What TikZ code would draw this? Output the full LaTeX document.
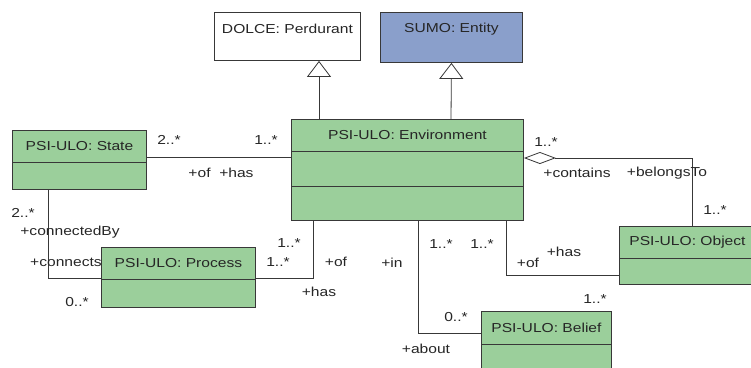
\documentclass[tikz,border=0pt]{standalone}
\usepackage{fontspec}
\setmainfont{Liberation Sans}[FakeStretch=1.2]
\usetikzlibrary{arrows.meta, positioning}
\definecolor{ulogreen}{HTML}{9BCF9B}
\definecolor{sumoblue}{HTML}{8A9FCB}
\definecolor{edgegray}{HTML}{383838}

\tikzset{
  classbox/.style={draw=edgegray, line width=0.9pt, fill=ulogreen, anchor=north west, inner sep=0pt},
  classname/.style={inner sep=0pt, font=\fontsize{13}{15}\selectfont, text=black!85},
  rolelabel/.style={inner sep=0pt, font=\fontsize{13}{15}\selectfont, text=black!85},
  assoc/.style={draw=edgegray, line width=0.8pt},
  gen/.style={assoc, -{Triangle[open, length=16pt, width=24pt, line width=0.8pt]}},
  aggr/.style={assoc, {Diamond[open, length=32pt, width=12pt, line width=0.8pt]}-}
}

\begin{document}
\begin{tikzpicture}[x=1pt, y=-1pt]
        \useasboundingbox (0,0) rectangle (751,367);
        \fill[white] (0,0) rectangle (751,367);

        \node[classbox, fill=white, minimum width=146pt, minimum height=48pt] (dolce) at (214,12) {};
        \node[classname] (dolcename) at ([yshift=-17pt]dolce.north) {DOLCE: Perdurant};
        \node[classbox, fill=sumoblue, minimum width=142pt, minimum height=50pt] (sumo) at (380,12) {};
        \node[classname] (sumoname) at ([yshift=-17pt]sumo.north) {SUMO: Entity};

        \node[classbox, minimum width=232pt, minimum height=101pt] (env) at (291,119) {};
        \node[classname] (envname) at ([yshift=-16pt]env.north) {PSI-ULO: Environment};
        \foreach \dy in {32,67}
            \draw[assoc] ([yshift=-\dy pt]env.north west) -- ([yshift=-\dy pt]env.north east);

        \node[classbox, minimum width=134pt, minimum height=59pt] (state) at (12,130) {};
        \node[classname] (statename) at ([yshift=-16pt]state.north) {PSI-ULO: State};
        \draw[assoc] ([yshift=-32pt]state.north west) -- ([yshift=-32pt]state.north east);

        \node[classbox, minimum width=154pt, minimum height=60pt] (process) at (101,247) {};
        \node[classname] (processname) at ([yshift=-16pt]process.north) {PSI-ULO: Process};
        \draw[assoc] ([yshift=-32pt]process.north west) -- ([yshift=-32pt]process.north east);

        \node[classbox, minimum width=136pt, minimum height=58pt] (object) at (619,226) {};
        \node[classname] (objectname) at ([yshift=-16pt]object.north) {PSI-ULO: Object};
        \draw[assoc] ([yshift=-32pt]object.north west) -- ([yshift=-32pt]object.north east);

        \node[classbox, minimum width=130pt, minimum height=70pt] (belief) at (481,311) {};
        \node[classname] (beliefname) at ([yshift=-17pt]belief.north) {PSI-ULO: Belief};
        \draw[assoc] ([yshift=-33pt]belief.north west) -- ([yshift=-33pt]belief.north east);

        \draw[gen] ([xshift=28pt]env.north west) coordinate (gdolce) -- (gdolce |- dolce.south);
        \draw[gen] ([xshift=160pt]env.north west) -- (sumo.south);

        \draw[assoc] ([yshift=-27pt]state.north east) -- ([yshift=-38pt]env.north west);
        \draw[assoc] ([xshift=36pt]state.south west) |- ([yshift=-31pt]process.north west);
        \draw[assoc] ([yshift=-31pt]process.north east) -| ([xshift=22pt]env.south west);
        \draw[assoc] ([xshift=127pt]env.south west) |- ([yshift=-22pt]belief.north west);
        \draw[assoc] ([xshift=215pt]env.south west) |- ([yshift=-49pt]object.north west);
        \draw[aggr] ([yshift=-39pt]env.north east) -| ([xshift=73pt]object.north west);

        \node[rolelabel] (stmult) at (169,140) {2..*};
        \node[rolelabel] (enstmult) at (266,140) {1..*};
        \node[rolelabel] (stenrole) at (221,173) {+of\ \ +has};
        \node[rolelabel] (stdownmult) at (23,213) {2..*};
        \node[rolelabel] (conbyrole) at (70,232) {+connectedBy};
        \node[rolelabel] (conrole) at (66,262) {+connects};
        \node[rolelabel] (prmult) at (77,302) {0..*};
        \node[rolelabel] (enprmult) at (289,243) {1..*};
        \node[rolelabel] (prenmult) at (278,262) {1..*};
        \node[rolelabel] (prenrole) at (336,262) {+of};
        \node[rolelabel] (enprrole) at (319,292) {+has};
        \node[rolelabel] (inrole) at (392,263) {+in};
        \node[rolelabel] (enbemult) at (441,244) {1..*};
        \node[rolelabel] (enobmult) at (482,244) {1..*};
        \node[rolelabel] (obenrole) at (528,263) {+of};
        \node[rolelabel] (enobrole) at (564,252) {+has};
        \node[rolelabel] (obmult) at (595,299) {1..*};
        \node[rolelabel] (bemult) at (456,317) {0..*};
        \node[rolelabel] (aboutrole) at (426,349) {+about};
        \node[rolelabel] (aggmult) at (546,142) {1..*};
        \node[rolelabel] (containsrole) at (577,173) {+contains};
        \node[rolelabel] (belongsrole) at (667,173) {+belongsTo};
        \node[rolelabel] (partmult) at (715,210) {1..*};
        \end{tikzpicture}
\end{document}
